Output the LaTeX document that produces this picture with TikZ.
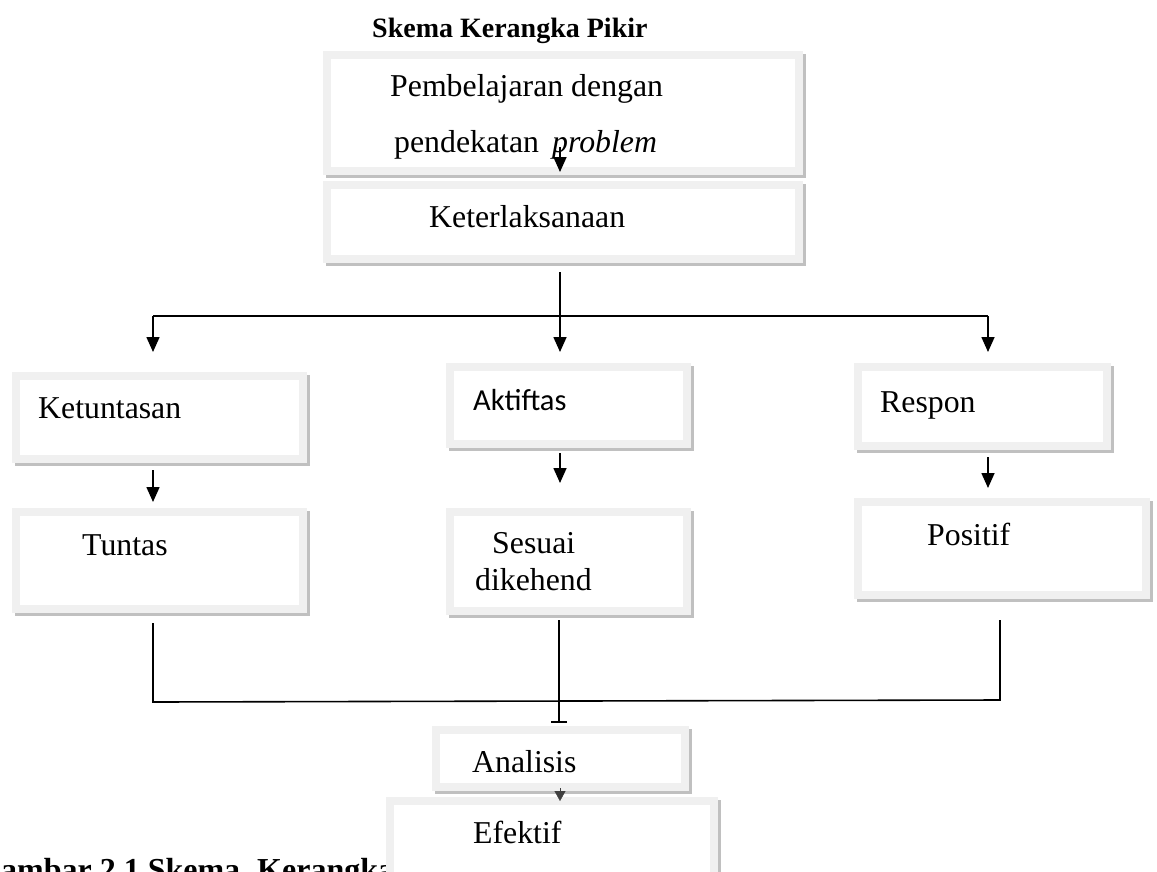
\documentclass[tikz,border=0pt]{standalone}
\usepackage{fontspec}
\setmainfont{Liberation Serif}
\newfontfamily\calfont{Carlito}
\usetikzlibrary{arrows.meta}
\definecolor{boxframe}{RGB}{240,240,240}
\definecolor{shadowgray}{RGB}{192,192,192}
\definecolor{tipgray}{RGB}{64,64,64}
\tikzset{
  boxnode/.style={draw=boxframe, line width=8pt, fill=white, inner sep=0pt, rectangle},
  txt/.style={inner sep=0pt, anchor=base west, font=\fontsize{31.8}{36}\selectfont},
  ttl/.style={inner sep=0pt, anchor=base west, font=\fontsize{28}{32}\selectfont\bfseries},
  capt/.style={inner sep=0pt, anchor=base west, font=\fontsize{32}{36}\selectfont\bfseries},
  ln/.style={line width=1.6pt, black},
  arr/.style={line width=1.6pt, black, -{Triangle[width=13pt,length=15pt]}},
}
\newcommand\mybox[5]{%
  \fill[shadowgray] ({#2+3},{#3+3}) rectangle ({#4+3},{#5+3});
  \node[boxnode, minimum width={#4-#2-8}, minimum height={#5-#3-8}] (#1) at ({(#2+#4)/2},{(#3+#5)/2}) {};
}
\begin{document}
\begin{tikzpicture}[x=1pt,y=-1pt]
\useasboundingbox (0,0) rectangle (1157,871);
\clip (0,0) rectangle (1157,871);
\fill[white] (0,0) rectangle (1157,871);

% title
\node[ttl] (title) at (372,37) {Skema Kerangka Pikir};

% caption (partly covered by the Efektif box, cut by the lower edge)
\node[capt] (cap1) at (-24,880) {Gambar 2.1 Skema};
\node[capt] (cap2) at (257,880) {Kerangka};

% boxes
\mybox{pb}{323}{51}{803}{175}
\mybox{kt}{323}{181}{803}{263}
\mybox{kn}{12}{372}{307}{463}
\mybox{tn}{12}{508}{307}{613}
\mybox{ak}{446}{363}{691}{448}
\mybox{ss}{446}{508}{691}{615}
\mybox{rp}{854}{363}{1111}{450}
\mybox{ps}{854}{498}{1150}{599}
\mybox{an}{432}{726}{689}{791}
\mybox{ef}{386}{797}{718}{900}

% texts
\node[txt] (tpb1) at (390,96) {Pembelajaran dengan};
\node[txt] (tpb2) at (394,152) {pendekatan \,\textit{problem}};
\node[txt] (tkt) at (429,227) {Keterlaksanaan};
\node[txt] (tkn) at (38,418) {Ketuntasan};
\node[txt] (ttn) at (82,555) {Tuntas};
\node[txt, font=\fontsize{30.5}{34}\selectfont\calfont] (tak) at (473,410) {Aktiftas};
\node[txt] (tss1) at (492,553) {Sesuai};
\node[txt] (tss2) at (475,590) {dikehend};
\node[txt] (trp) at (880,412) {Respon};
\node[txt] (tps) at (927,545) {Positif};
\node[txt] (tan) at (472,772) {Analisis};
\node[txt] (tef) at (473,843) {Efektif};

% coordinates
\coordinate (a0) at (560,147);
\coordinate (a1) at (560,172);
\coordinate (k0) at (560,272);
\coordinate (jm) at (560,316);
\coordinate (jl) at (153,316);
\coordinate (jr) at (988,316);
\coordinate (el) at (153,352);
\coordinate (em) at (560,352);
\coordinate (er) at (988,352);
\coordinate (l0) at (153,470);
\coordinate (l1) at (153,502);
\coordinate (m0) at (560,453);
\coordinate (m1) at (560,483);
\coordinate (r0) at (988,457);
\coordinate (r1) at (988,488);
\coordinate (bl0) at (153,623);
\coordinate (bl1) at (153,702);
\coordinate (bm0) at (559,620);
\coordinate (bm1) at (559,702);
\coordinate (bm2) at (559,723);
\coordinate (br0) at (1000,620);
\coordinate (br1) at (1000,700);
\coordinate (s0) at (560,788);
\coordinate (s1) at (560,801);

% connectors
\draw[arr] (a0) -- (a1);
\draw[ln] (k0) -- (jm);
\draw[ln] (jl) -- (jr);
\draw[arr] (jl) -- (el);
\draw[arr] (jm) -- (em);
\draw[arr] (jr) -- (er);
\draw[arr] (l0) -- (l1);
\draw[arr] (m0) -- (m1);
\draw[arr] (r0) -- (r1);
\draw[ln] (bl0) -- (bl1) -- (br1) -- (br0);
\draw[ln] (bm0) -- (bm1);
\draw[line width=1.6pt, -{Bar[width=16pt,line width=1.6pt]}] (bm1) -- (bm2);
\draw[line width=0.4pt, tipgray, -{Triangle[width=11pt,length=10pt]}] (s0) -- (s1);
\end{tikzpicture}
\end{document}
